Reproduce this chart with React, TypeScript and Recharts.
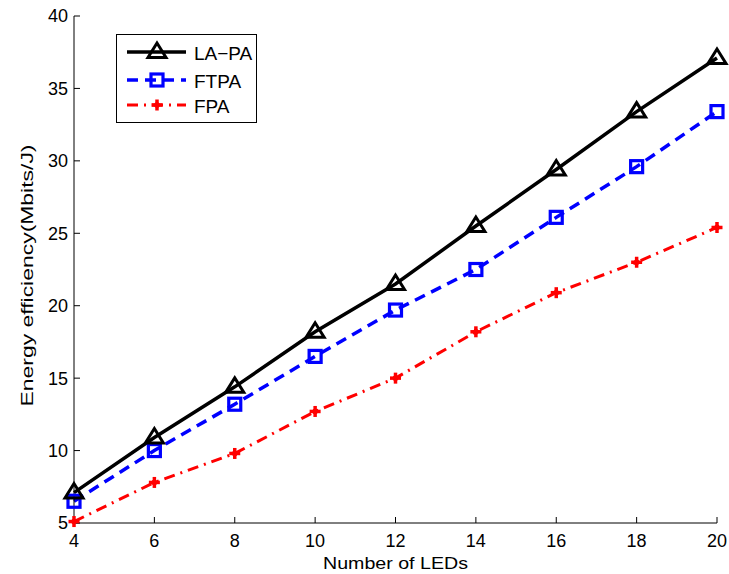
import React from "react";
import { LineChart, Line, XAxis, YAxis, Label } from "recharts";

const ledCounts = [4, 6, 8, 10, 12, 14, 16, 18, 20];
const laPa = [7.1, 10.9, 14.4, 18.2, 21.5, 25.5, 29.4, 33.4, 37.1];
const ftpa = [6.5, 10.0, 13.2, 16.5, 19.7, 22.5, 26.1, 29.6, 33.4];
const fpa = [5.1, 7.8, 9.8, 12.7, 15.0, 18.2, 20.9, 23.0, 25.4];

const xTicks = [4, 6, 8, 10, 12, 14, 16, 18, 20];
const yTicks = [5, 10, 15, 20, 25, 30, 35, 40];

const seriesNames = ["LA\u2212PA", "FTPA", "FPA"];

const data = ledCounts.map((n, i) => ({
  n,
  laPa: laPa[i],
  ftpa: ftpa[i],
  fpa: fpa[i],
}));

const FONT = "'Liberation Sans', Arial, Helvetica, sans-serif";

function Triangle({ cx, cy }: { cx: number; cy: number }) {
  const s = 9;
  return (
    <polygon
      points={`${cx},${cy - s} ${cx - s},${cy + s * 0.6} ${cx + s},${cy + s * 0.6}`}
      fill="none"
      stroke="#000"
      strokeWidth={3}
      strokeLinejoin="miter"
    />
  );
}

function Square({ cx, cy }: { cx: number; cy: number }) {
  const s = 6;
  return (
    <rect x={cx - s} y={cy - s} width={s * 2} height={s * 2} fill="none" stroke="#0000ff" strokeWidth={3.2} />
  );
}

function Plus({ cx, cy }: { cx: number; cy: number }) {
  const s = 5.5;
  return (
    <g stroke="#ff0000" strokeWidth={3.5}>
      <line x1={cx - s} y1={cy} x2={cx + s} y2={cy} />
      <line x1={cx} y1={cy - s} x2={cx} y2={cy + s} />
      <circle cx={cx} cy={cy} r={2.5} fill="#ff0000" strokeWidth={1} />
    </g>
  );
}

const dotOf = (Shape: typeof Triangle) => (p: any) => (
  <g key={`${p.dataKey}-${p.index}`}>
    <Shape cx={p.cx} cy={p.cy} />
  </g>
);

function YLabel(props: any) {
  const vb = props.viewBox;
  const x = vb.x + 27;
  const y = vb.y + vb.height / 2 + 6;
  return (
    <text
      x={x}
      y={y}
      transform={`rotate(-90 ${x} ${y})`}
      textAnchor="middle"
      dominantBaseline="central"
      fontFamily={FONT}
      fontSize={17}
      textLength={262}
      lengthAdjust="spacingAndGlyphs"
      fill="#000"
    >
      Energy efficiency(Mbits/J)
    </text>
  );
}

function XLabel(props: any) {
  const vb = props.viewBox;
  return (
    <text
      x={vb.x + vb.width / 2}
      y={563}
      textAnchor="middle"
      dominantBaseline="central"
      fontFamily={FONT}
      fontSize={17}
      textLength={145}
      lengthAdjust="spacingAndGlyphs"
      fill="#000"
    >
      Number of LEDs
    </text>
  );
}

const legendRows = [
  { name: seriesNames[0], color: "#000", dash: undefined, width: 3.5, Shape: Triangle },
  { name: seriesNames[1], color: "#0000ff", dash: "11 7", width: 3.5, Shape: Square },
  { name: seriesNames[2], color: "#ff0000", dash: "11 6 2 6", width: 3, Shape: Plus },
];

function LegendBox() {
  const rowY = [18, 46, 71];
  return (
    <div
      style={{
        position: "absolute",
        left: 116,
        top: 34,
        width: 141,
        height: 89,
        border: "1px solid #000",
        background: "#fff",
        boxSizing: "border-box",
      }}
    >
      <svg width={141} height={89} style={{ position: "absolute", left: -1, top: -1 }}>
        {legendRows.map((r, i) => (
          <g key={r.name}>
            <line
              x1={11}
              x2={70}
              y1={rowY[i]}
              y2={rowY[i]}
              stroke={r.color}
              strokeWidth={r.width}
              strokeDasharray={r.dash}
            />
            <r.Shape cx={41} cy={rowY[i]} />
            <text x={78} y={rowY[i] + 1} dominantBaseline="central" fontFamily={FONT} fontSize={19} fill="#000">
              {r.name}
            </text>
          </g>
        ))}
      </svg>
    </div>
  );
}

const tickStyle = { fill: "#000", fontSize: 18, fontFamily: FONT };

export default function App() {
  return (
    <div style={{ position: "absolute", left: 0, top: 0, width: 729, height: 574, background: "#fff" }}>
      <LineChart width={729} height={574} data={data} margin={{ top: 16, right: 12, bottom: 0, left: 0 }}>
        <XAxis
          dataKey="n"
          type="number"
          domain={[4, 20]}
          ticks={xTicks}
          height={51}
          stroke="#000"
          tickSize={-6}
          tickMargin={17}
          tick={tickStyle}
          tickLine={{ stroke: "#000" }}
        >
          <Label content={XLabel} />
        </XAxis>
        <XAxis
          xAxisId="top"
          orientation="top"
          dataKey="n"
          type="number"
          domain={[4, 20]}
          ticks={xTicks}
          height={0}
          stroke="#000"
          tickSize={-6}
          tick={false}
        />
        <YAxis
          type="number"
          domain={[5, 40]}
          ticks={yTicks}
          width={74}
          stroke="#000"
          tickSize={-6}
          tickMargin={12}
          tick={tickStyle}
          tickLine={{ stroke: "#000" }}
        >
          <Label content={YLabel} />
        </YAxis>
        <YAxis
          yAxisId="right"
          orientation="right"
          type="number"
          domain={[5, 40]}
          ticks={yTicks}
          width={0}
          stroke="#000"
          tickSize={-6}
          tick={false}
        />
        <Line
          dataKey="fpa"
          stroke="#ff0000"
          strokeWidth={3}
          strokeDasharray="11 6 2 6"
          dot={dotOf(Plus)}
          isAnimationActive={false}
        />
        <Line
          dataKey="ftpa"
          stroke="#0000ff"
          strokeWidth={3.5}
          strokeDasharray="11 7"
          dot={dotOf(Square)}
          isAnimationActive={false}
        />
        <Line
          dataKey="laPa"
          stroke="#000"
          strokeWidth={3.5}
          dot={dotOf(Triangle)}
          isAnimationActive={false}
        />
      </LineChart>
      <LegendBox />
    </div>
  );
}
